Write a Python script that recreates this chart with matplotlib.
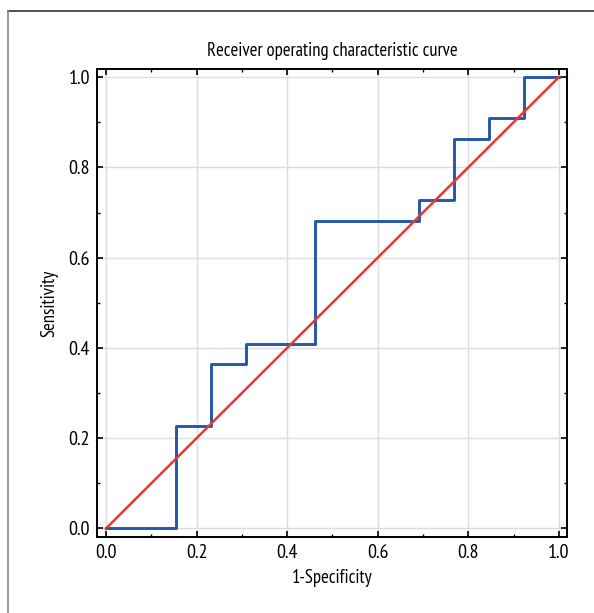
import matplotlib
matplotlib.use("Agg")
import matplotlib.pyplot as plt
from matplotlib.lines import Line2D
from matplotlib.ticker import MultipleLocator

fpr = [0.0, 0.154, 0.231, 0.308, 0.462, 0.692, 0.769, 0.846, 0.923, 1.0]
tpr = [0.0, 0.227, 0.364, 0.409, 0.682, 0.727, 0.864, 0.909, 1.0, 1.0]
diag = [0.0, 1.0]
ticks = [0.0, 0.2, 0.4, 0.6, 0.8, 1.0]

plt.rcParams['font.family'] = ['PT Sans Narrow', 'DejaVu Sans']

fig = plt.figure(figsize=(5.94, 6.13), dpi=100)
ax = fig.add_axes([97/594, 1-537/613, 470/594, 468/613])

ax.plot(fpr, tpr, drawstyle='steps-post', color='#2457a8', lw=2.1, zorder=3)
ax.plot(diag, diag, color='#ee3333', lw=1.8, zorder=4)

ax.set_xlim(-0.02, 1.018)
ax.set_ylim(-0.019, 1.018)
ax.set_xticks(ticks)
ax.set_yticks(ticks)
ax.set_xticklabels([f"{t:.1f}" for t in ticks])
ax.set_yticklabels([f"{t:.1f}" for t in ticks])
ax.xaxis.set_minor_locator(MultipleLocator(0.1))
ax.yaxis.set_minor_locator(MultipleLocator(0.1))
ax.tick_params(which='both', direction='in', top=True, right=True, labelsize=14.5, color='black')
ax.tick_params(which='major', length=4, width=1.2, pad=5)
ax.tick_params(which='minor', length=2.5, width=1.0)
ax.grid(True, which='major', color='#dddddd', lw=1.0, zorder=0)
for s in ax.spines.values():
    s.set_linewidth(1.4)
    s.set_color('black')

ax.set_title('Receiver operating characteristic curve', fontsize=13.4, pad=9)
ax.set_xlabel('1-Specificity', fontsize=13.5, labelpad=5)
ax.set_ylabel('Sensitivity', fontsize=13.5, labelpad=7)

fig.add_artist(Line2D([8/594, 1.0], [1-11/613, 1-11/613], color='#333333', lw=1.2, transform=fig.transFigure))
fig.add_artist(Line2D([8/594, 8/594], [0.0, 1-11/613], color='#888888', lw=1.2, transform=fig.transFigure))

fig.savefig('out.png', dpi=100)
